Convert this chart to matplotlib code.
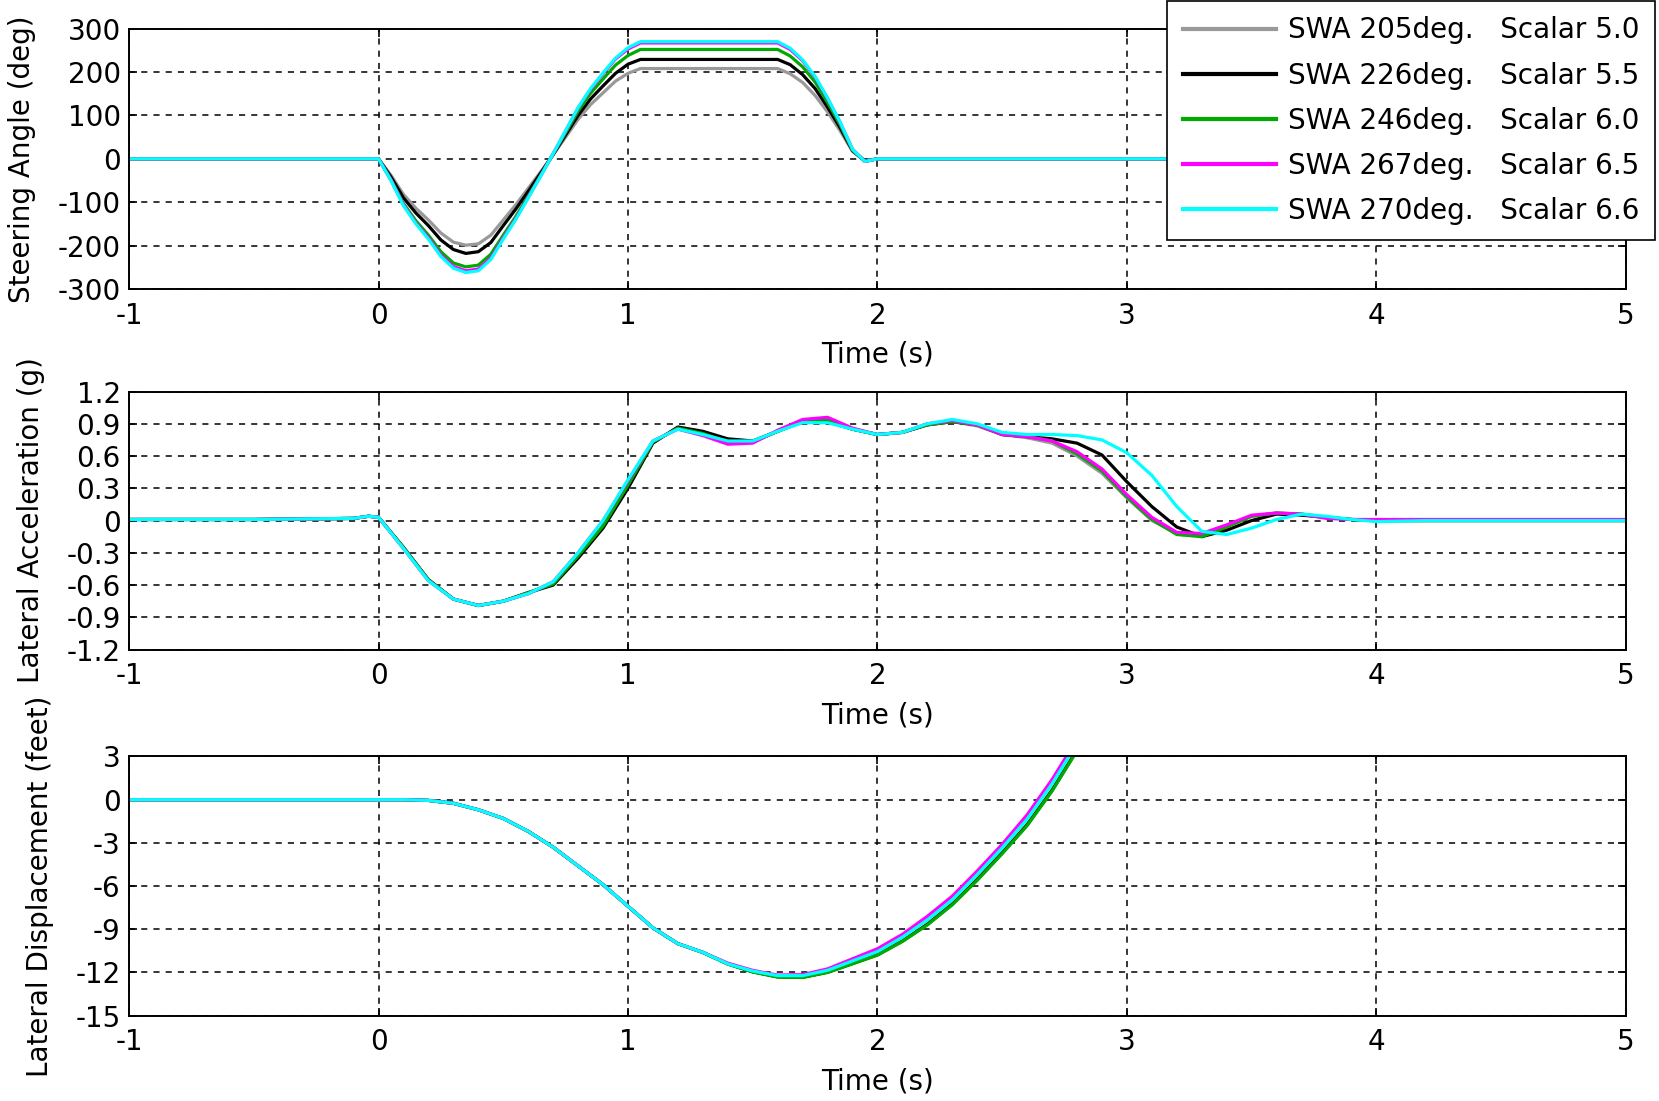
import matplotlib
matplotlib.use("Agg")
import matplotlib.pyplot as plt

plt.rcParams['font.family'] = ['DejaVu Sans']

# series labels and colours
labels = ["SWA 205deg.   Scalar 5.0",
          "SWA 226deg.   Scalar 5.5",
          "SWA 246deg.   Scalar 6.0",
          "SWA 267deg.   Scalar 6.5",
          "SWA 270deg.   Scalar 6.6"]
colors = ["#999999", "#000000", "#00aa00", "#ff00ff", "#00ffff"]

# steering angle (deg)
steer_t = [-1, 0, 0.05, 0.1, 0.15, 0.2, 0.25, 0.3, 0.35, 0.4, 0.45, 0.5, 0.55, 0.6, 0.65,
           0.7, 0.75, 0.8, 0.85, 0.9, 0.95, 1.0, 1.05, 1.6, 1.65, 1.7, 1.75, 1.8, 1.85,
           1.9, 1.95, 2.0, 5.0]
steer_205 = [0, 0, -38, -82, -114, -141, -171, -192, -199, -196, -176, -141, -106, -68, -30,
             9, 50, 91, 125, 152, 179, 197, 208, 208, 196, 176, 146, 108, 65, 17, -5, 0, 0]
steer_226 = [0, 0, -42, -90, -125, -154, -187, -209, -218, -214, -193, -154, -116, -75, -33,
             10, 55, 100, 138, 168, 197, 218, 229, 229, 217, 194, 162, 119, 72, 19, -5, 0, 0]
steer_246 = [0, 0, -48, -103, -143, -176, -214, -240, -249, -245, -220, -176, -133, -86, -38,
             11, 60, 110, 151, 184, 216, 238, 252, 252, 237, 212, 177, 130, 79, 20, -6, 0, 0]
steer_267 = [0, 0, -49, -106, -148, -182, -222, -248, -258, -254, -229, -182, -138, -89, -39,
             12, 64, 117, 160, 196, 230, 253, 267, 267, 252, 226, 188, 139, 84, 22, -6, 0, 0]
steer_270 = [0, 0, -50, -108, -150, -185, -225, -252, -262, -258, -232, -185, -140, -90, -40,
             12, 65, 118, 162, 198, 232, 256, 270, 270, 255, 228, 190, 140, 85, 22, -6, 0, 0]

# lateral acceleration (g)
acc_t = [-1, -0.5, -0.1, -0.04, 0, 0.1, 0.2, 0.3, 0.4, 0.5, 0.6, 0.7, 0.8, 0.9, 1.0,
         1.1, 1.2, 1.3, 1.4, 1.5, 1.6, 1.7, 1.8, 1.9, 2.0, 2.1, 2.2, 2.3, 2.4, 2.5,
         2.6, 2.7, 2.8, 2.9, 3.0, 3.1, 3.2, 3.3, 3.4, 3.5, 3.6, 3.7, 3.8, 3.9, 4.0,
         4.2, 5.0]
acc_205 = [0.01, 0.01, 0.02, 0.04, 0.03, -0.25, -0.55, -0.73, -0.79, -0.75, -0.68, -0.58,
           -0.32, -0.04, 0.33, 0.73, 0.86, 0.81, 0.74, 0.73, 0.83, 0.92, 0.93, 0.85, 0.80,
           0.82, 0.89, 0.92, 0.88, 0.80, 0.77, 0.72, 0.60, 0.44, 0.21, 0.0, -0.12, -0.13,
           -0.05, 0.04, 0.07, 0.06, 0.03, 0.01, 0.0, 0.0, 0.0]
acc_226 = [0.01, 0.01, 0.02, 0.04, 0.03, -0.25, -0.55, -0.73, -0.79, -0.75, -0.67, -0.60,
           -0.35, -0.07, 0.30, 0.72, 0.87, 0.83, 0.76, 0.74, 0.83, 0.92, 0.92, 0.85, 0.80,
           0.82, 0.89, 0.92, 0.89, 0.80, 0.78, 0.76, 0.72, 0.61, 0.36, 0.13, -0.06, -0.15,
           -0.09, 0.0, 0.06, 0.05, 0.03, 0.01, 0.0, 0.0, 0.0]
acc_246 = [0.01, 0.01, 0.02, 0.04, 0.03, -0.25, -0.55, -0.73, -0.79, -0.75, -0.67, -0.59,
           -0.33, -0.05, 0.33, 0.73, 0.86, 0.81, 0.73, 0.73, 0.83, 0.93, 0.94, 0.85, 0.80,
           0.82, 0.89, 0.92, 0.89, 0.80, 0.78, 0.74, 0.62, 0.46, 0.22, 0.01, -0.13, -0.15,
           -0.06, 0.04, 0.07, 0.06, 0.03, 0.01, 0.0, 0.0, 0.0]
acc_267 = [0.01, 0.01, 0.02, 0.04, 0.03, -0.26, -0.56, -0.73, -0.79, -0.75, -0.68, -0.57,
           -0.30, 0.0, 0.37, 0.74, 0.85, 0.79, 0.71, 0.72, 0.84, 0.94, 0.96, 0.86, 0.80,
           0.82, 0.90, 0.93, 0.89, 0.80, 0.78, 0.74, 0.64, 0.48, 0.24, 0.03, -0.11, -0.12,
           -0.04, 0.05, 0.07, 0.06, 0.02, 0.01, 0.01, 0.01, 0.01]
acc_270 = [0.01, 0.01, 0.02, 0.04, 0.03, -0.26, -0.56, -0.73, -0.79, -0.75, -0.68, -0.57,
           -0.30, 0.0, 0.38, 0.74, 0.85, 0.80, 0.74, 0.74, 0.83, 0.91, 0.91, 0.85, 0.80,
           0.82, 0.90, 0.94, 0.90, 0.82, 0.80, 0.80, 0.79, 0.75, 0.63, 0.42, 0.13, -0.10,
           -0.13, -0.07, 0.01, 0.06, 0.04, 0.01, -0.01, 0.0, 0.0]

# lateral displacement (feet)
disp_t = [-1, 0, 0.1, 0.2, 0.3, 0.4, 0.5, 0.6, 0.7, 0.8, 0.9, 1.0, 1.1, 1.2, 1.3, 1.4,
          1.5, 1.6, 1.7, 1.8, 1.9, 2.0, 2.1, 2.2, 2.3, 2.4, 2.5, 2.6, 2.7, 2.8]
disp_205 = [0, 0, 0, -0.05, -0.25, -0.7, -1.3, -2.2, -3.3, -4.6, -5.9, -7.4, -8.9, -10.0,
            -10.6, -11.4, -11.95, -12.3, -12.32, -11.97, -11.37, -10.75, -9.8, -8.63, -7.22,
            -5.5, -3.65, -1.7, 0.7, 3.5]
disp_226 = [0, 0, 0, -0.05, -0.25, -0.7, -1.3, -2.2, -3.3, -4.6, -5.9, -7.4, -8.9, -10.0,
            -10.6, -11.4, -11.95, -12.3, -12.33, -11.98, -11.38, -10.77, -9.82, -8.66, -7.26,
            -5.55, -3.7, -1.75, 0.65, 3.45]
disp_246 = [0, 0, 0, -0.05, -0.25, -0.7, -1.3, -2.2, -3.3, -4.6, -5.9, -7.4, -8.9, -10.0,
            -10.62, -11.42, -11.97, -12.32, -12.35, -12.0, -11.4, -10.8, -9.85, -8.7, -7.3,
            -5.6, -3.75, -1.8, 0.6, 3.4]
disp_267 = [0, 0, 0, -0.05, -0.25, -0.7, -1.3, -2.2, -3.3, -4.6, -5.9, -7.4, -8.9, -10.0,
            -10.6, -11.35, -11.85, -12.18, -12.15, -11.75, -11.05, -10.35, -9.35, -8.1, -6.7,
            -4.95, -3.1, -1.05, 1.4, 4.2]
disp_270 = [0, 0, 0, -0.05, -0.25, -0.7, -1.3, -2.2, -3.3, -4.6, -5.9, -7.4, -8.9, -10.0,
            -10.6, -11.4, -11.9, -12.22, -12.22, -11.85, -11.2, -10.55, -9.55, -8.35, -6.95,
            -5.2, -3.35, -1.35, 1.1, 3.9]

steer = [steer_205, steer_226, steer_246, steer_267, steer_270]
acc = [acc_205, acc_226, acc_246, acc_267, acc_270]
disp = [disp_205, disp_226, disp_246, disp_267, disp_270]

fig = plt.figure(figsize=(16.59, 11.01), dpi=100)
left, width = 0.0778, 0.9022
ax1 = fig.add_axes([left, 0.7375, width, 0.2365])
ax2 = fig.add_axes([left, 0.410, width, 0.2344])
ax3 = fig.add_axes([left, 0.0775, width, 0.2354])

fs = 20
lw = 2.3

for ax, tt, data, ylim, yticks, ylab, lx in [
        (ax1, steer_t, steer, (-300, 300), range(-300, 301, 100), "Steering Angle (deg)", -0.062),
        (ax2, acc_t, acc, (-1.2, 1.2), [-1.2, -0.9, -0.6, -0.3, 0, 0.3, 0.6, 0.9, 1.2],
         "Lateral Acceleration (g)", -0.056),
        (ax3, disp_t, disp, (-15, 3), range(-15, 4, 3), "Lateral Displacement (feet)", -0.050)]:
    for vals, c, lab in zip(data, colors, labels):
        ax.plot(tt, vals, color=c, lw=lw, label=lab)
    ax.set_xlim(-1, 5)
    ax.set_ylim(*ylim)
    ax.set_xticks(range(-1, 6))
    ax.set_yticks(list(yticks))
    ax.set_yticklabels([("%g" % v) for v in yticks])
    ax.set_xticklabels([("%d" % v) for v in range(-1, 6)])
    ax.grid(True, color='black', linestyle=(0, (4, 4)), linewidth=1.1)
    ax.tick_params(direction='in', top=True, right=True, length=6, width=1.2,
                   labelsize=fs)
    ax.tick_params(axis='x', pad=9)
    ax.tick_params(axis='y', pad=6)
    for s in ax.spines.values():
        s.set_linewidth(1.4)
    ax.set_xlabel("Time (s)", fontsize=fs, labelpad=8)
    ax.set_ylabel(ylab, fontsize=fs)
    ax.yaxis.set_label_coords(lx, 0.5)

leg = fig.legend(*ax1.get_legend_handles_labels(), loc='upper right',
                 bbox_to_anchor=(1655 / 1659, 1 - 1 / 1101), fontsize=fs,
                 frameon=True, fancybox=False, framealpha=1, edgecolor='black',
                 handlelength=3.35, handletextpad=0.45, labelspacing=0.62,
                 borderpad=0.55, borderaxespad=0)
leg.get_frame().set_linewidth(1.2)
for h in leg.get_lines():
    h.set_linewidth(3)

fig.savefig("out.png", dpi=100)
